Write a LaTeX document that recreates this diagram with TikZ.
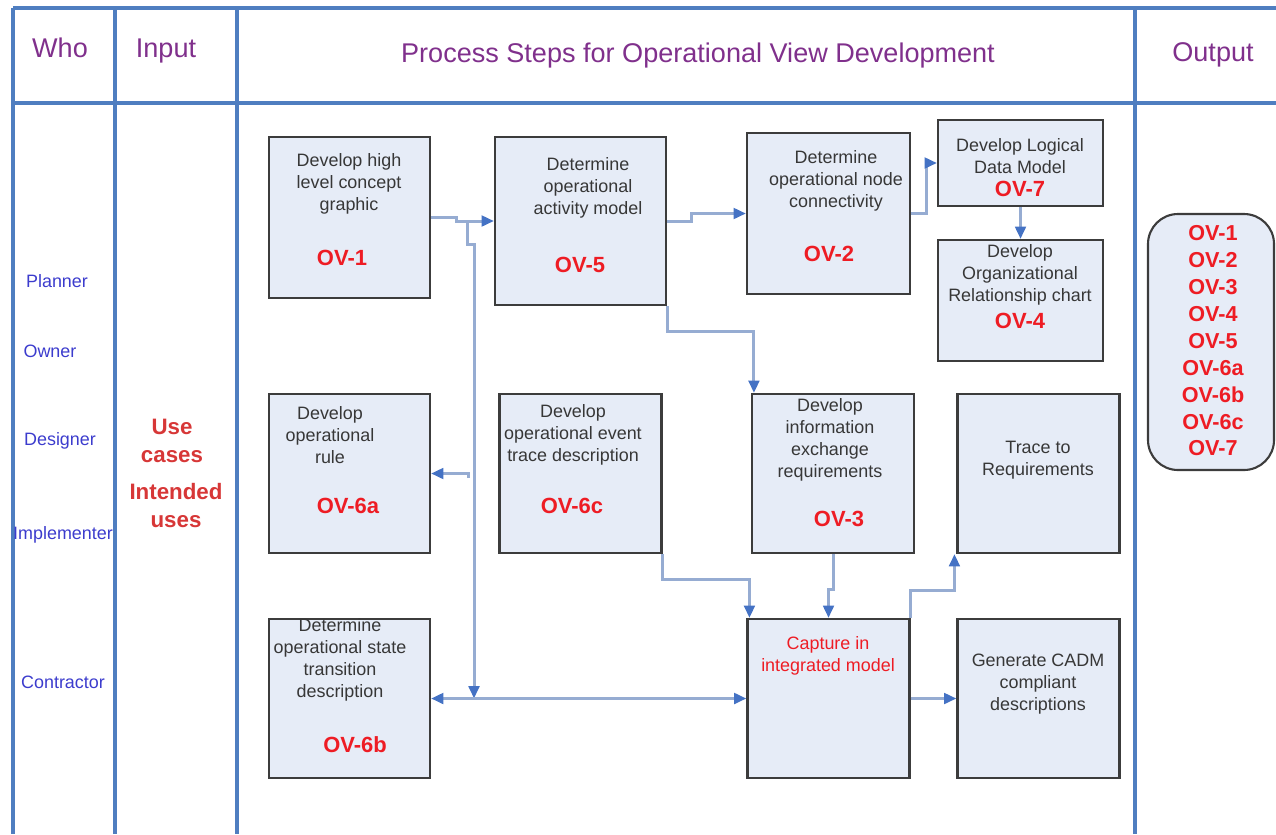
\documentclass[tikz,border=0pt]{standalone}
\usepackage{fontspec}
\setmainfont{Liberation Sans}
\usetikzlibrary{arrows.meta}
\definecolor{gridblue}{RGB}{79,126,192}
\definecolor{flowblue}{RGB}{150,172,210}
\definecolor{tipblue}{RGB}{68,114,196}
\definecolor{boxfill}{RGB}{230,236,247}
\definecolor{boxline}{RGB}{60,60,60}
\definecolor{textgray}{RGB}{55,55,55}
\definecolor{ovred}{RGB}{238,28,36}
\definecolor{inred}{RGB}{215,55,55}
\definecolor{headpurple}{RGB}{128,48,140}
\definecolor{whoblue}{RGB}{60,60,205}
\tikzset{my box/.style={draw=boxline, line width=1.2pt, fill=boxfill, minimum width=   3.240000 cm, minimum height=   3.180000 cm, inner sep=0pt},
my text/.style={align=center, text=textgray, inner sep=0pt, font=\fontsize{10.2}{12.5}\selectfont},
my ov/.style={text=ovred, inner sep=0pt, font=\fontsize{12.5}{15}\selectfont\bfseries},
my head/.style={text=headpurple, inner sep=0pt, font=\fontsize{15.4}{18}\selectfont},
my who/.style={text=whoblue, inner sep=0pt, font=\fontsize{10.2}{12}\selectfont},
my input/.style={align=center, text=inred, inner sep=0pt, font=\fontsize{12.7}{15.9}\selectfont\bfseries},
my grid/.style={draw=gridblue, line width=2.3pt},
my arrow/.style={draw=flowblue, line width=1.7pt, -{Triangle[length=7pt,width=6pt,color=tipblue]}},
my both/.style={my arrow, line width=2.2pt, {Triangle[length=7pt,width=6pt,color=tipblue]}-{Triangle[length=7pt,width=6pt,color=tipblue]}},}

\begin{document}
\begin{tikzpicture}
\useasboundingbox (  0.000000,  0.000000) rectangle ( 25.520000,-16.680000);
% table
\draw [my grid] (  0.260000, -0.160000) -- ( 25.520000, -0.160000);
\draw [my grid] (  0.260000, -2.060000) -- ( 25.520000, -2.060000);
\draw [my grid] (  0.260000, -0.160000) -- (  0.260000,-16.680000);
\draw [my grid] (  2.300000, -0.160000) -- (  2.300000,-16.680000);
\draw [my grid] (  4.740000, -0.160000) -- (  4.740000,-16.680000);
\draw [my grid] ( 22.700000, -0.160000) -- ( 22.700000,-16.680000);
\node [my head] (whohead) at (  1.200000, -0.960000) {Who}; \\
\node [my head] (inputhead) at (  3.320000, -1.020000) {Input}; \\
\node [my head] (stepshead) at ( 13.960000, -1.100000) {Process Steps for Operational View Development}; \\
\node [my head] (outputhead) at ( 24.260000, -1.100000) {Output}; \\
\node [my who] (planner) at (  1.140000, -5.620000) {Planner}; \\
\node [my who] (owner) at (  1.000000, -7.020000) {Owner}; \\
\node [my who] (designer) at (  1.200000, -8.820000) {Designer}; \\
\node [my who] (implementer) at (  1.260000,-10.700000) {Implementer}; \\
\node [my who] (contractor) at (  1.260000,-13.640000) {Contractor}; \\
\node [my input] (usecases) at (  3.440000, -8.820000) {Use\\cases}; \\
\node [my input] (intended) at (  3.520000,-10.110000) {Intended\\uses}; \\
% boxes
\node [my box, minimum width=3.22cm, minimum height=3.22cm] (ov1box) at (  6.990000, -4.350000) {}; \\
\node [my box, minimum width=3.42cm, minimum height=3.36cm] (ov5box) at ( 11.610000, -4.420000) {}; \\
\node [my box, minimum width=3.26cm, minimum height=3.22cm] (ov2box) at ( 16.570000, -4.270000) {}; \\
\node [my box, minimum width=3.30cm, minimum height=1.72cm] (ov7box) at ( 20.410000, -3.260000) {}; \\
\node [my box, minimum width=3.30cm, minimum height=2.42cm] (ov4box) at ( 20.410000, -6.010000) {}; \\
\node [my box, minimum width=3.22cm] (ov6abox) at (  6.990000, -9.470000) {}; \\
\node [my box] (ov6cbox) at ( 11.610000, -9.470000) {}; \\
\node [my box] (ov3box) at ( 16.660000, -9.470000) {}; \\
\node [my box] (tracebox) at ( 20.770000, -9.470000) {}; \\
\node [my box] (capbox) at ( 16.570000,-13.970000) {}; \\
\node [my box] (cadmbox) at ( 20.770000,-13.970000) {}; \\
\node [my box, minimum width=3.22cm] (ov6bbox) at (  6.990000,-13.970000) {}; \\
\node [my box, rounded corners=0.6cm, minimum width=2.52cm, minimum height=5.12cm] (outbox) at ( 24.220000, -6.840000) {}; \\
% box texts
\node [my text] (ov1text) at (  6.980000, -3.680000) {Develop high\\level concept\\graphic}; \\
\node [my ov] (ov1label) at (  6.840000, -5.160000) {OV-1}; \\
\node [my text] (ov5text) at ( 11.760000, -3.760000) {Determine\\operational\\activity model}; \\
\node [my ov] (ov5label) at ( 11.600000, -5.300000) {OV-5}; \\
\node [my text] (ov2text) at ( 16.720000, -3.620000) {Determine\\operational node\\connectivity}; \\
\node [my ov] (ov2label) at ( 16.580000, -5.080000) {OV-2}; \\
\node [my text] (ov7text) at ( 20.400000, -3.120000) {Develop Logical\\Data Model}; \\
\node [my ov] (ov7label) at ( 20.400000, -3.780000) {OV-7}; \\
\node [my text] (ov4text) at ( 20.400000, -5.500000) {Develop\\Organizational\\Relationship chart}; \\
\node [my ov] (ov4label) at ( 20.400000, -6.420000) {OV-4}; \\
\node [my text] (ov6atext) at (  6.600000, -8.700000) {Develop\\operational\\rule}; \\
\node [my ov] (ov6alabel) at (  6.960000,-10.120000) {OV-6a}; \\
\node [my text] (ov6ctext) at ( 11.460000, -8.700000) {Develop\\operational event\\trace description}; \\
\node [my ov] (ov6clabel) at ( 11.440000,-10.120000) {OV-6c}; \\
\node [my text] (ov3text) at ( 16.600000, -8.790000) {Develop\\information\\exchange\\requirements}; \\
\node [my ov] (ov3label) at ( 16.780000,-10.380000) {OV-3}; \\
\node [my text] (tracetext) at ( 20.760000, -9.200000) {Trace to\\Requirements}; \\
\node [my text, text=ovred] (captext) at ( 16.560000,-13.120000) {Capture in\\integrated model}; \\
\node [my text] (cadmtext) at ( 20.760000,-13.680000) {Generate CADM\\compliant\\descriptions}; \\
\node [my text] (ov6btext) at (  6.800000,-13.190000) {Determine\\operational state\\transition\\description}; \\
\node [my ov] (ov6blabel) at (  7.100000,-14.900000) {OV-6b}; \\
\node [my ov, align=center, font=\fontsize{12.3}{15.3}\selectfont\bfseries] (outlist) at ( 24.260000, -6.820000) {OV-1\\OV-2\\OV-3\\OV-4\\OV-5\\OV-6a\\OV-6b\\OV-6c\\OV-7}; \\
% connectors
\coordinate (ov1split) at (  9.340000, -4.420000);
\coordinate (statejoin) at (  9.480000,-13.970000);
\coordinate (rulejoin) at (  9.360000, -9.560000);
\draw [my arrow] (ov1box.east) -- ++(0.50,0) |- (ov5box.west);
\draw [my arrow] (ov1split) -- ++(0,-0.46) -| (statejoin);
\draw [my arrow] (rulejoin) |- (ov6abox.east);
\draw [my both] (ov6bbox.east) -- (capbox.west);
\draw [my arrow] (ov5box.east) -- ++(0.48,0) |- (ov2box.west);
\draw [my arrow] (ov2box.east) -- ++(0.30,0) |- (ov7box.west);
\draw [my arrow] (ov7box.south) -- (ov4box.north);
\draw [my arrow] (ov5box.south east) -- ++(0,-0.50) -| ([xshift=0.06cm]ov3box.north west);
\draw [my arrow] (ov6cbox.south east) -- ++(0,-0.50) -| ([xshift=0.06cm]capbox.north west);
\draw [my arrow] (ov3box.south) -- ++(0,-0.70) -| (capbox.north);
\draw [my arrow] (capbox.north east) -- ++(0,0.54) -| ([xshift=-0.04cm]tracebox.south west);
\draw [my arrow] (capbox.east) -- (cadmbox.west);
\end{tikzpicture}
\end{document}
